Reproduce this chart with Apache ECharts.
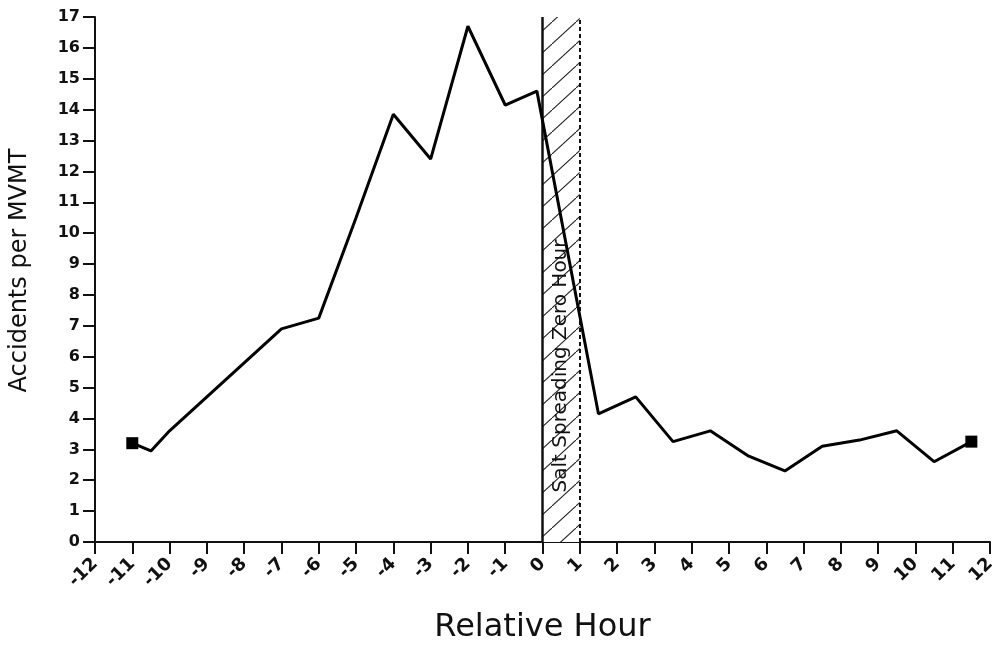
<!DOCTYPE html>
<html><head><meta charset="utf-8">
<script src="https://cdn.jsdelivr.net/npm/echarts@6/dist/echarts.min.js"></script>
<style>html,body{margin:0;padding:0;background:#fff}#c{width:1003px;height:649px}</style>
</head><body><div id="c"></div>
<script>
// Data
var hours  = [-11, -10.5, -10, -9, -8, -7, -6, -5, -4, -3, -2, -1, -0.15, 1.5, 2.5, 3.5, 4.5, 5.5, 6.5, 7.5, 8.5, 9.5, 10.5, 11.5];
var values = [3.2, 2.95, 3.6, 4.7, 5.8, 6.9, 7.25, 10.5, 13.85, 12.4, 16.7, 14.15, 14.6, 4.15, 4.7, 3.25, 3.6, 2.8, 2.3, 3.1, 3.3, 3.6, 2.6, 3.25];
var xTicks = [-12,-11,-10,-9,-8,-7,-6,-5,-4,-3,-2,-1,0,1,2,3,4,5,6,7,8,9,10,11,12];
var yTicks = [0,1,2,3,4,5,6,7,8,9,10,11,12,13,14,15,16,17];
var zoneStart = 0, zoneEnd = 1;
var zoneLabel = 'Salt Spreading Zero Hour';
var xName = 'Relative Hour', yName = 'Accidents per MVMT';

var FONT = '"DejaVu Sans", "Liberation Sans", Arial, sans-serif';
var pat = document.createElement('canvas');
pat.width = 24; pat.height = 22;
var g = pat.getContext('2d');
g.fillStyle = '#fff'; g.fillRect(0,0,24,22);
g.strokeStyle = '#222'; g.lineWidth = 1.1;
g.beginPath(); g.moveTo(-1, 22.9); g.lineTo(25, -0.9); g.stroke();

var data = hours.map(function(h, i){
  var d = {value:[h, values[i]]};
  if (i === 0 || i === hours.length - 1) { d.symbol = 'rect'; d.symbolSize = 12; }
  return d;
});

var chart = echarts.init(document.getElementById('c'), null, {renderer:'canvas'});
chart.setOption({
  backgroundColor:'#fff',
  animation:false,
  grid:{left:95, right:13, top:17, bottom:104},
  xAxis:{
    type:'value', min:xTicks[0], max:xTicks[xTicks.length-1], interval:1,
    name:xName, nameLocation:'middle', nameGap:70,
    nameTextStyle:{fontFamily:FONT, fontSize:32, color:'#111'},
    axisLine:{show:true, onZero:false, lineStyle:{color:'#111', width:2}},
    axisTick:{show:true, length:12, lineStyle:{color:'#111', width:2}},
    axisLabel:{rotate:45, margin:19, fontFamily:FONT, fontSize:18, fontWeight:'bold', color:'#111'},
    splitLine:{show:false}
  },
  yAxis:{
    type:'value', min:yTicks[0], max:yTicks[yTicks.length-1], interval:1,
    name:yName, nameLocation:'middle', nameGap:63,
    nameTextStyle:{fontFamily:FONT, fontSize:24, color:'#111', padding:[0,0,0,18]},
    axisLine:{show:true, onZero:false, lineStyle:{color:'#111', width:2}},
    axisTick:{show:true, length:12, lineStyle:{color:'#111', width:2}},
    axisLabel:{margin:15, fontFamily:FONT, fontSize:16, fontWeight:'bold', color:'#111'},
    splitLine:{show:false}
  },
  series:[{
    type:'line', data:data, symbol:'none', showSymbol:true,
    lineStyle:{color:'#000', width:3}, itemStyle:{color:'#000'},
    z:5,
    markArea:{
      silent:true,
      itemStyle:{color:{image:pat, repeat:'repeat'}, opacity:1},
      data:[[{xAxis:zoneStart, yAxis:yTicks[0]},{xAxis:zoneEnd, yAxis:yTicks[yTicks.length-1]}]]
    },
    markLine:{
      silent:true, symbol:'none', label:{show:false},
      data:[
        {xAxis:zoneStart, lineStyle:{type:'solid', color:'#111', width:2.5}},
        {xAxis:zoneEnd, lineStyle:{type:[4,3], color:'#111', width:2}}
      ]
    }
  }]
});
var p = chart.convertToPixel({gridIndex:0}, [(zoneStart+zoneEnd)/2, 5.7]);
chart.setOption({graphic:[{
  type:'text', x:p[0], y:p[1], rotation:Math.PI/2, z:10,
  style:{text:zoneLabel, font:'20px ' + FONT, fill:'#111', textAlign:'center', textVerticalAlign:'middle'}
}]});
</script></body></html>
